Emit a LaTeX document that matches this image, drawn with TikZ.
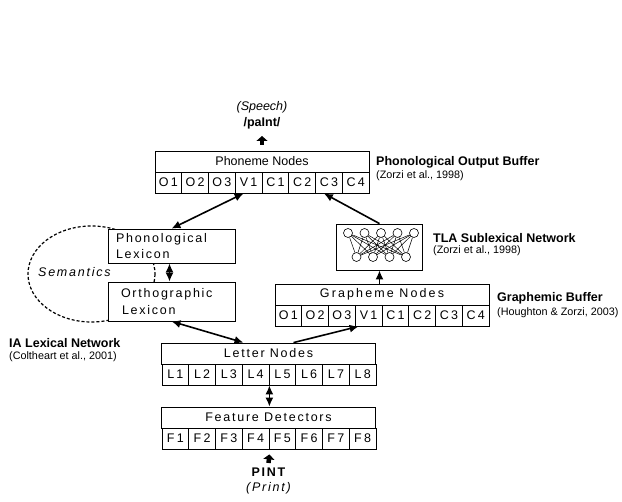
\documentclass[tikz,border=0pt]{standalone}
\usepackage{fontspec}
\setmainfont{Liberation Sans}
\usetikzlibrary{arrows.meta}
\newcommand{\spc}{\addfontfeature{LetterSpace=14}}

\begin{document}
\begin{tikzpicture}[x=1pt, y=-1pt,
    font=\fontsize{12.5}{15}\selectfont,
    hdr/.style={draw, line width=0.8pt, fill=white, minimum width=214pt, minimum height=21pt, inner sep=0pt},
    cell/.style={draw, line width=0.8pt, fill=white, minimum width=26.75pt, minimum height=21pt, inner sep=0pt, font=\fontsize{12.5}{15}\selectfont\addfontfeature{LetterSpace=18}},
    lexbox/.style={draw, line width=0.8pt, fill=white, minimum width=127pt, text width=111pt, align=left, inner xsep=8pt, inner ysep=0pt, font=\fontsize{12.5}{16.5}\selectfont\spc},
    unit/.style={draw, circle, line width=0.6pt, fill=white, minimum size=9pt, inner sep=0pt},
    link/.style={line width=0.5pt},
    arr/.style={line width=1.6pt, -{Latex[length=9pt,width=8pt]}},
    dbl/.style={line width=1.6pt, {Latex[length=9pt,width=8pt]}-{Latex[length=9pt,width=8pt]}},
    blk/.style={line width=4.5pt, -{Triangle[length=5pt,width=11pt]}},
    lbl/.style={anchor=west, inner sep=0pt, font=\fontsize{12.5}{15}\selectfont\bfseries},
    ref/.style={anchor=west, inner sep=0pt, font=\fontsize{10.8}{13}\selectfont}]

\useasboundingbox (0,0) rectangle (622,502);

% semantics loop, behind the lexicons
\draw[line width=1.2pt, dash pattern=on 3pt off 2pt] (91.5,274) ellipse [x radius=63.5, y radius=48];
\node[anchor=west, inner sep=0pt, font=\fontsize{12.5}{15}\selectfont\itshape\spc] (sem) at (38,272) {Semantics};

% lexicons
\node[lexbox, minimum height=34pt] (phlex) at (171.5,246) {Phonological\\Lexicon};
\node[lexbox, minimum height=39pt] (orlex) at (171.5,301.5) {\hspace*{5pt}Orthographic\\\hspace*{6pt}Lexicon};

% phoneme nodes
\node[hdr] (phhdr) at (262,161.5) {Phoneme Nodes};
\foreach \c [count=\i] in {O1,O2,O3,V1,C1,C2,C3,C4}
    \node[cell] (ph\i) at ({155+26.75*(\i-0.5)},182.5) {\c};

% grapheme nodes
\node[hdr, font=\fontsize{12.5}{15}\selectfont\addfontfeature{LetterSpace=17}] (grhdr) at (382,294.5) {Grapheme Nodes};
\foreach \c [count=\i] in {O1,O2,O3,V1,C1,C2,C3,C4}
    \node[cell] (gr\i) at ({275+26.75*(\i-0.5)},315.5) {\c};

% letter nodes
\node[hdr, font=\fontsize{12.5}{15}\selectfont\spc] (lethdr) at (268.5,353.5) {Letter Nodes};
\foreach \i in {1,...,8}
    \node[cell] (let\i) at ({162+26.75*(\i-0.5)},374.5) {L\i};

% feature detectors
\node[hdr, font=\fontsize{12.5}{15}\selectfont\spc] (fthdr) at (268.5,417.5) {Feature Detectors};
\foreach \i in {1,...,8}
    \node[cell] (ft\i) at ({162+26.75*(\i-0.5)},438.5) {F\i};

% TLA network
\node[draw, line width=0.8pt, fill=white, minimum width=86pt, minimum height=46pt, inner sep=0pt] (tla) at (379.5,247) {};
\foreach \i in {1,...,5}
    \node[unit] (in\i) at ({348+16.5*(\i-1)},233) {};
\foreach \j in {1,...,4}
    \node[unit] (out\j) at ({356.5+16.5*(\j-1)},257) {};
\foreach \i in {1,...,5}
    \foreach \j in {1,...,4}
        \draw[link] (in\i) -- (out\j);

% connections
\draw[dbl] (phlex.north) -- ([xshift=-5pt]ph4.south);
\draw[arr] (tla.north) -- ([xshift=-5pt]ph7.south);
\draw[arr] (tla.south |- grhdr.north) -- (tla.south);
\draw[dbl] ([xshift=-2pt]phlex.south) -- ([xshift=-2pt]orlex.north);
\draw[dbl] (orlex.south) -- ([xshift=-25pt]lethdr.north);
\draw[arr] ([xshift=25pt]lethdr.north) -- ([xshift=-10pt]gr4.south);
\draw[dbl] (let4.south east) -- (let4.south east |- fthdr.north);

% output
\node[font=\fontsize{12.5}{15}\selectfont\itshape] (speech) at (262,107) {(Speech)};
\node[font=\fontsize{12.5}{15}\selectfont\bfseries] (say) at (262,123) {/paInt/};
\coordinate (sayin) at (262,136);
\draw[blk] ([yshift=6pt]phhdr.north) -- (sayin);

% input
\coordinate (printsrc) at (268.5,463);
\draw[blk] (printsrc) -- ([yshift=-5pt]ft4.south east);
\node[font=\fontsize{12.5}{15}\selectfont\bfseries\spc] (pint) at (268.5,472) {PINT};
\node[font=\fontsize{12.5}{15}\selectfont\itshape\spc] (print) at (268.5,488) {(Print)};

% labels
\node[lbl] (poblbl) at (376,162) {Phonological Output Buffer};
\node[ref] (pobref) at (376,176) {(Zorzi et al., 1998)};
\node[lbl] (tlalbl) at (433,238) {TLA Sublexical Network};
\node[ref] (tlaref) at (433,251) {(Zorzi et al., 1998)};
\node[lbl] (gblbl) at (497,298) {Graphemic Buffer};
\node[ref] (gbref) at (497,313) {(Houghton \& Zorzi, 2003)};
\node[lbl] (ialbl) at (9,343) {IA Lexical Network};
\node[ref] (iaref) at (9,357) {(Coltheart et al., 2001)};
\end{tikzpicture}
\end{document}
